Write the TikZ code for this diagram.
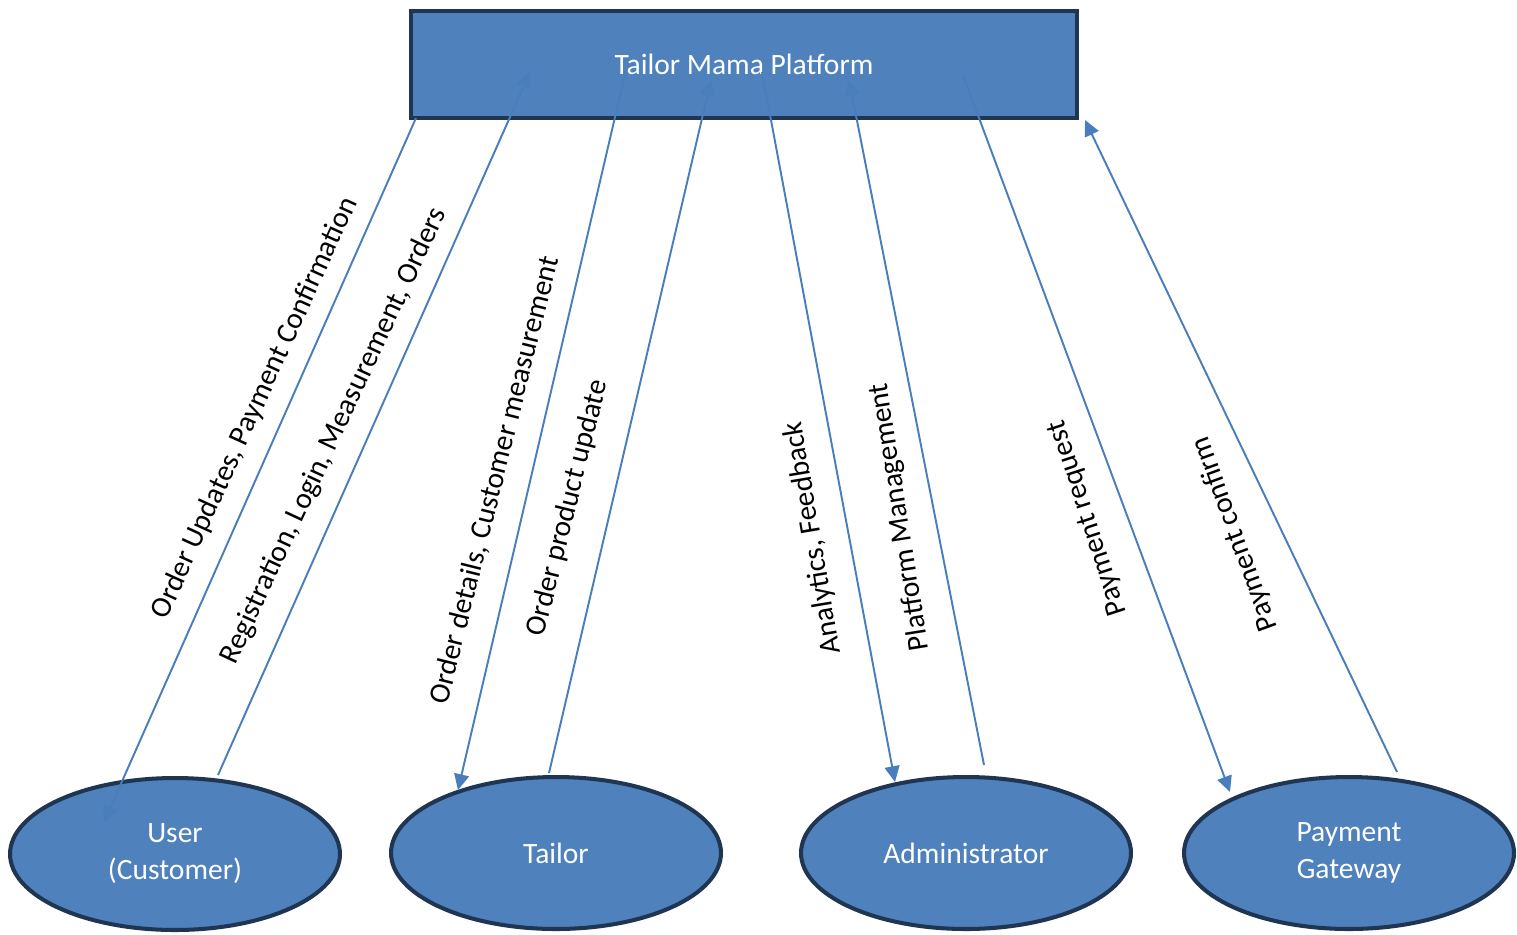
\documentclass[tikz,border=0pt]{standalone}
\usepackage{fontspec}
\setmainfont{Carlito}
\usepackage{tikz}
\usetikzlibrary{arrows.meta}
\usetikzlibrary{positioning}
\usetikzlibrary{shapes.geometric}
\definecolor{boxblue}{HTML}{4F81BD}
\definecolor{boxedge}{HTML}{1F3552}
\definecolor{flowblue}{HTML}{4A7EBB}

\begin{document}
\begin{tikzpicture}[x=0.02cm,y=-0.02cm,every node/.style={font=\fontsize{16.8}{21}\selectfont},
  platform/.style={draw=boxedge,fill=boxblue,line width=2pt,minimum width=13.32cm,minimum height=2.14cm,text=white},
  entity/.style={ellipse,draw=boxedge,fill=boxblue,line width=2.3pt,minimum width=6.6cm,minimum height=3.04cm,text=white,align=center},
  flow/.style={draw=flowblue,line width=1.1pt,-{Triangle[length=9pt,width=8.5pt]}},
  flowlabel/.style={inner sep=1pt}]
  \useasboundingbox (0,0) rectangle (1517,934);

  \node[platform] (plat) at (744,64.5) {Tailor Mama Platform};
  \node[entity] (user) at (175,854) {User\\(Customer)};
  \node[entity] (tailor) at (556,853) {Tailor};
  \node[entity] (admin) at (966,853) {Administrator};
  \node[entity] (gate) at (1349,853) {Payment\\Gateway};

  % line ends
  \coordinate (u1) at (416,118);  \coordinate (u2) at (104,822);
  \coordinate (u3) at (218,775);  \coordinate (u4) at (530,72);
  \coordinate (t1) at (626,70);   \coordinate (t2) at (458,790);
  \coordinate (t3) at (549,773);  \coordinate (t4) at (711,80);
  \coordinate (a1) at (762,72);   \coordinate (a2) at (895,782);
  \coordinate (a3) at (984,765);  \coordinate (a4) at (849,80);
  \coordinate (g1) at (963,75);   \coordinate (g2) at (1230,792);
  \coordinate (g3) at (1397,772); \coordinate (g4) at (1085,120);

  \draw[flow](u1)--(u2);
  \draw[flow](u3)--(u4);
  \draw[flow](t1)--(t2);
  \draw[flow](t3)--(t4);
  \draw[flow](a1)--(a2);
  \draw[flow](a3)--(a4);
  \draw[flow](g1)--(g2);
  \draw[flow](g3)--(g4);

  \node[flowlabel,rotate=65.5] (l1) at (255,408) {Order Updates, Payment Confirmation};
  \node[flowlabel,rotate=65] (l2) at (334,436) {Registration, Login, Measurement, Orders};
  \node[flowlabel,rotate=76] (l3) at (495,480) {Order details, Customer measurement};
  \node[flowlabel,rotate=76] (l4) at (568,508) {Order product update};
  \node[flowlabel,rotate=99.5] (l5) at (813,538) {Analytics, Feedback};
  \node[flowlabel,rotate=99] (l6) at (900,517) {Platform Management};
  \node[flowlabel,rotate=108] (l7) at (1088,518) {Payment request};
  \node[flowlabel,rotate=110] (l8) at (1235,534) {Payment confirm};
\end{tikzpicture}
\end{document}
